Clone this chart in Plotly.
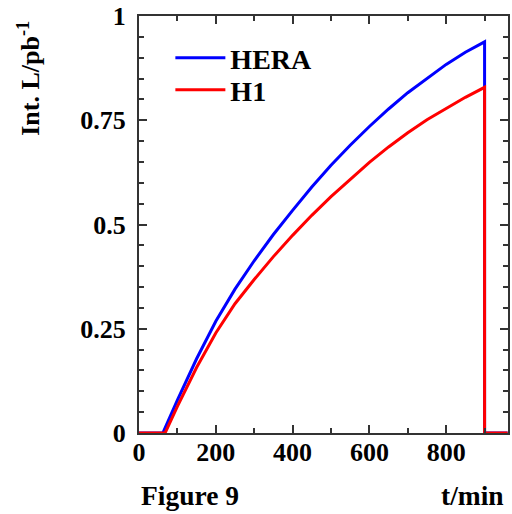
import plotly.graph_objects as go

# Data (time in minutes, integrated luminosity in pb^-1)
t_hera = [0, 62, 100, 150, 200, 250, 300, 350, 400, 450, 500, 550, 600, 650, 700, 750, 800, 850, 900, 900, 960]
lumi_hera = [0, 0, 0.079, 0.178, 0.268, 0.345, 0.413, 0.476, 0.534, 0.590, 0.642, 0.690, 0.735, 0.777, 0.816,
             0.851, 0.884, 0.913, 0.938, 0, 0]
t_h1 = [0, 68, 100, 150, 200, 250, 300, 350, 400, 450, 500, 550, 600, 650, 700, 750, 800, 850, 900, 900, 960]
lumi_h1 = [0, 0, 0.064, 0.157, 0.240, 0.310, 0.368, 0.423, 0.474, 0.522, 0.567, 0.609, 0.649, 0.686, 0.720,
           0.751, 0.779, 0.805, 0.829, 0, 0]

x_tickvals = [0, 200, 400, 600, 800]
x_ticktext = ["0", "200", "400", "600", "800"]
y_tickvals = [0, 0.25, 0.5, 0.75, 1]
y_ticktext = ["0", "0.25", "0.5", "0.75", "1"]

FONT = "Liberation Serif"

fig = go.Figure()
fig.add_trace(go.Scatter(x=t_hera, y=lumi_hera, mode="lines", name="HERA", legend="legend",
                         line=dict(color="#0000ff", width=3), cliponaxis=False))
fig.add_trace(go.Scatter(x=t_h1, y=lumi_h1, mode="lines", name="H1", legend="legend2",
                         line=dict(color="#ff0000", width=3), cliponaxis=False))

axis_common = dict(
    showline=True, linecolor="#333333", linewidth=2, mirror="allticks",
    ticks="inside", tickcolor="#333333", tickwidth=1.5, ticklen=8,
    showgrid=False, zeroline=False,
    tickfont=dict(family=FONT, size=26, color="black", weight="bold"),
)

legend_common = dict(xanchor="left", yanchor="middle", bgcolor="rgba(0,0,0,0)", borderwidth=0,
                     font=dict(family=FONT, size=28, color="black", weight="bold"), itemwidth=50)

fig.update_layout(
    width=512, height=514,
    margin=dict(l=139, r=2, t=16, b=81),
    paper_bgcolor="white", plot_bgcolor="white",
    xaxis=dict(range=[0, 961], tickvals=x_tickvals, ticktext=x_ticktext, ticklabelstandoff=-5,
               minor=dict(dtick=100, tick0=0, ticks="inside", ticklen=5, tickcolor="#333333", tickwidth=1.5),
               **axis_common),
    yaxis=dict(range=[0, 1], tickvals=y_tickvals, ticktext=y_ticktext, ticklabelstandoff=6,
               minor=dict(dtick=0.05, tick0=0, ticks="inside", ticklen=5, tickcolor="#333333", tickwidth=1.5),
               **axis_common),
    showlegend=True,
    legend=dict(x=0.085, y=0.899, **legend_common),
    legend2=dict(x=0.085, y=0.8225, **legend_common),
    annotations=[
        dict(text="Int. L/pb<sup>-1</sup>", xref="paper", yref="paper", x=-0.299, y=0.851,
             xanchor="center", yanchor="middle", textangle=-90, showarrow=False,
             font=dict(family=FONT, size=26, color="black", weight="bold")),
        dict(text="Figure 9", xref="paper", yref="paper", x=0.0, y=-0.151,
             xanchor="left", yanchor="middle", showarrow=False,
             font=dict(family=FONT, size=27.5, color="black", weight="bold")),
        dict(text="t/min", xref="paper", yref="paper", x=0.995, y=-0.151,
             xanchor="right", yanchor="middle", showarrow=False,
             font=dict(family=FONT, size=27.5, color="black", weight="bold")),
    ],
)

fig.write_html("out.html")
